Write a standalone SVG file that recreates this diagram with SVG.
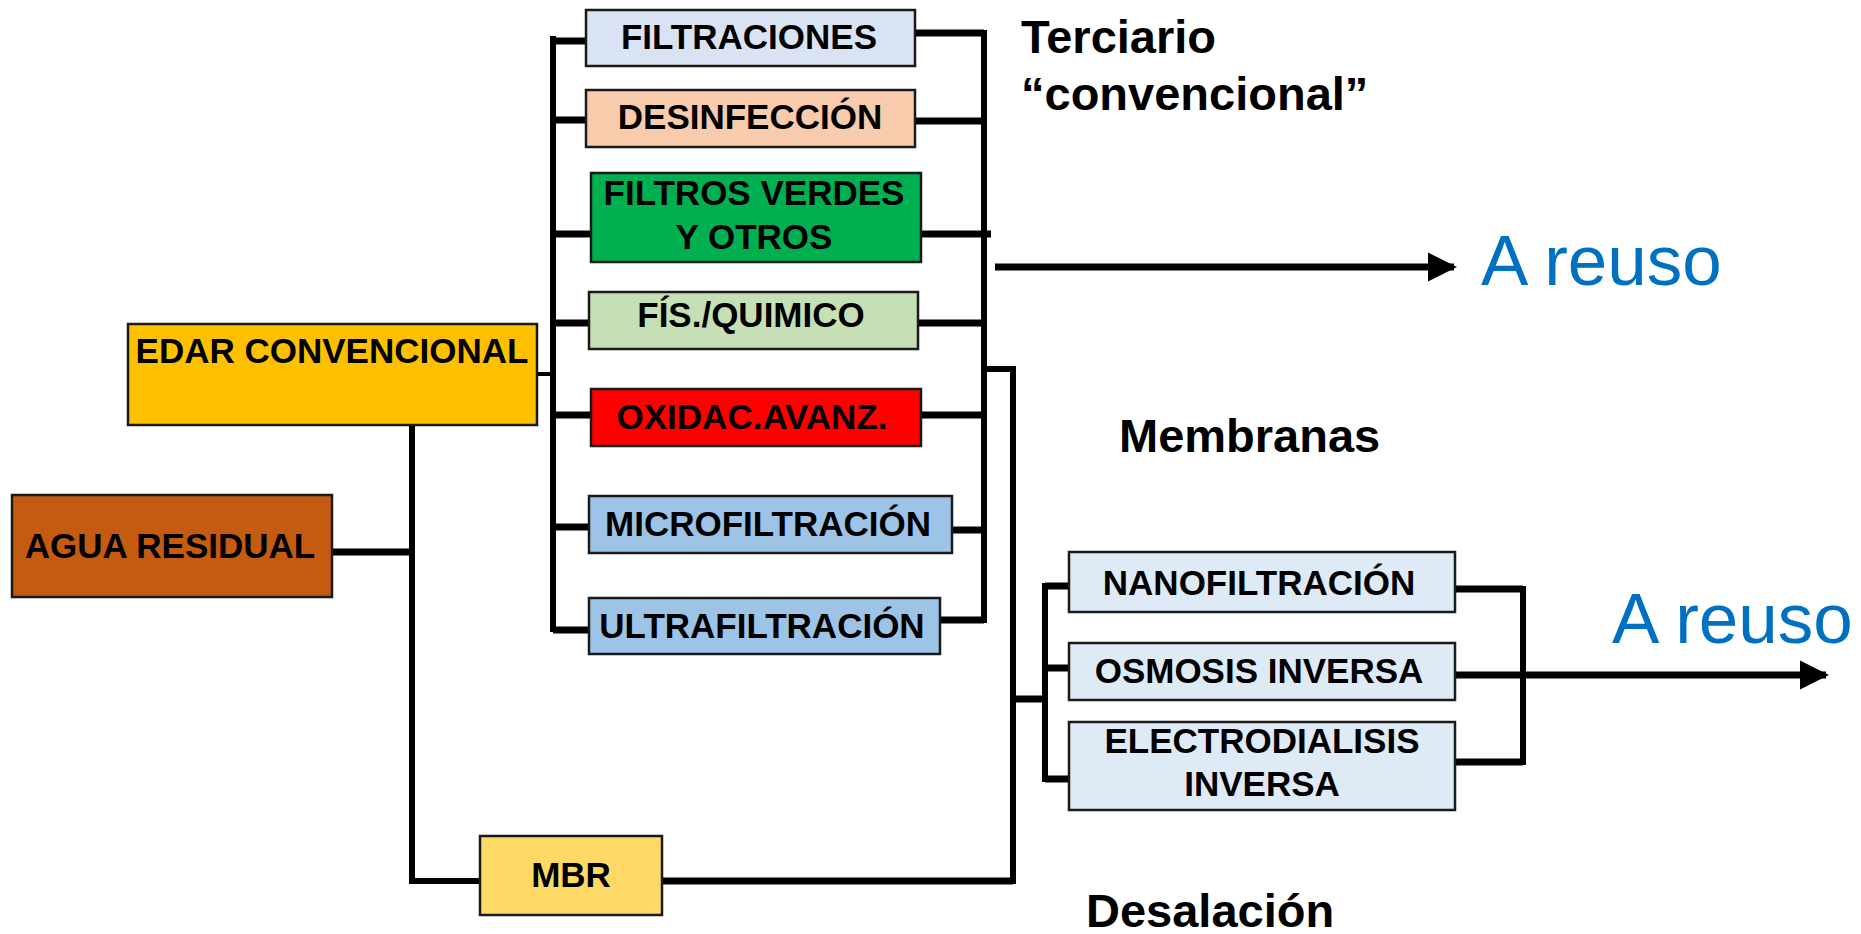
<svg xmlns="http://www.w3.org/2000/svg" width="1861" height="934" viewBox="0 0 1861 934">
<style>
.box{stroke:#1a1a1a;stroke-width:2.5}
.lbl{font-family:"Liberation Sans",Arial,sans-serif;font-weight:bold;font-size:35px;fill:#000;text-anchor:middle}
.head{font-family:"Liberation Sans",Arial,sans-serif;font-weight:bold;font-size:47px;fill:#000}
.reuso{font-family:"Liberation Sans",Arial,sans-serif;font-size:71px;fill:#0070C0}
.ln{fill:none;stroke:#000;stroke-width:6;stroke-linecap:square;stroke-linejoin:miter}
.br{fill:none;stroke:#000;stroke-width:7}
</style>
<defs>
<marker id="arr" viewBox="0 0 10 10" refX="9" refY="5" markerWidth="4.2" markerHeight="4.2" orient="auto" markerUnits="strokeWidth">
<path d="M0,0 L10,5 L0,10 z" fill="#000"/>
</marker>
</defs>
<rect width="1861" height="934" fill="#fff"/>
<g id="connectors">
<path class="br" d="M332,552 H412"/>
<path class="ln" d="M412,425 V881 H480"/>
<path class="br" d="M662,881 H1013"/>
<path class="ln" d="M984,369 H1013 V881"/>
<path class="ln" style="stroke-width:4" d="M537,374 H553"/>
<path class="ln" d="M553,39 V629"/>
<path class="br" d="M553,41 H586 M553,120 H586 M553,234 H591 M553,323 H589 M553,415 H591 M553,527 H589 M553,630 H589"/>
<path class="ln" d="M984,33 V620"/>
<path class="br" d="M915,33 H984 M915,121 H984 M921,234 H991 M918,323 H984 M921,415 H984 M952,530 H984 M940,620 H984"/>
<path class="br" d="M995,267 H1454" marker-end="url(#arr)"/>
<path class="br" d="M1013,699 H1045"/>
<path class="ln" d="M1045,586 V779"/>
<path class="br" d="M1045,586 H1069 M1045,668 H1069 M1045,779 H1069"/>
<path class="br" d="M1455,589 H1523 M1455,762 H1523"/>
<path class="ln" d="M1523,589 V762"/>
<path class="br" d="M1455,675 H1826" marker-end="url(#arr)"/>
</g>
<g id="agua"><rect class="box" x="12" y="495" width="320" height="102" fill="#C55A11"/><text class="lbl" x="170" y="558">AGUA RESIDUAL</text></g>
<g id="edar"><rect class="box" x="128" y="324" width="409" height="101" fill="#FFC000"/><text class="lbl" x="332" y="363">EDAR CONVENCIONAL</text></g>
<g id="mbr"><rect class="box" x="480" y="836" width="182" height="79" fill="#FFD966"/><text class="lbl" x="571" y="887">MBR</text></g>
<g id="filtraciones"><rect class="box" x="586" y="10" width="329" height="56" fill="#DAE3F3"/><text class="lbl" x="749" y="49">FILTRACIONES</text></g>
<g id="desinfeccion"><rect class="box" x="586" y="90" width="329" height="57" fill="#F8CBAD"/><text class="lbl" x="750" y="129">DESINFECCIÓN</text></g>
<g id="filtros"><rect class="box" x="591" y="173" width="330" height="89" fill="#00B050"/><text class="lbl" x="754" y="205">FILTROS VERDES</text><text class="lbl" x="754" y="249">Y OTROS</text></g>
<g id="fisquim"><rect class="box" x="589" y="292" width="329" height="57" fill="#C5E0B4"/><text class="lbl" x="751" y="327">FÍS./QUIMICO</text></g>
<g id="oxidac"><rect class="box" x="591" y="389" width="330" height="57" fill="#FF0000"/><text class="lbl" x="752" y="429">OXIDAC.AVANZ.</text></g>
<g id="micro"><rect class="box" x="589" y="496" width="363" height="57" fill="#9DC3E6"/><text class="lbl" x="768" y="536">MICROFILTRACIÓN</text></g>
<g id="ultra"><rect class="box" x="589" y="598" width="351" height="56" fill="#9DC3E6"/><text class="lbl" x="762" y="638">ULTRAFILTRACIÓN</text></g>
<g id="nano"><rect class="box" x="1069" y="552" width="386" height="60" fill="#DEEBF7"/><text class="lbl" x="1259" y="595">NANOFILTRACIÓN</text></g>
<g id="osmosis"><rect class="box" x="1069" y="643" width="386" height="57" fill="#DEEBF7"/><text class="lbl" x="1259" y="683">OSMOSIS INVERSA</text></g>
<g id="electro"><rect class="box" x="1069" y="722" width="386" height="88" fill="#DEEBF7"/><text class="lbl" x="1262" y="753">ELECTRODIALISIS</text><text class="lbl" x="1262" y="796">INVERSA</text></g>
<g id="labels">
<text class="head" x="1021" y="53">Terciario</text>
<text class="head" x="1021" y="110">“convencional”</text>
<text class="head" x="1119" y="452">Membranas</text>
<text class="head" x="1086" y="927">Desalación</text>
<text class="reuso" x="1481" y="285">A reuso</text>
<text class="reuso" x="1612" y="643">A reuso</text>
</g>
</svg>
